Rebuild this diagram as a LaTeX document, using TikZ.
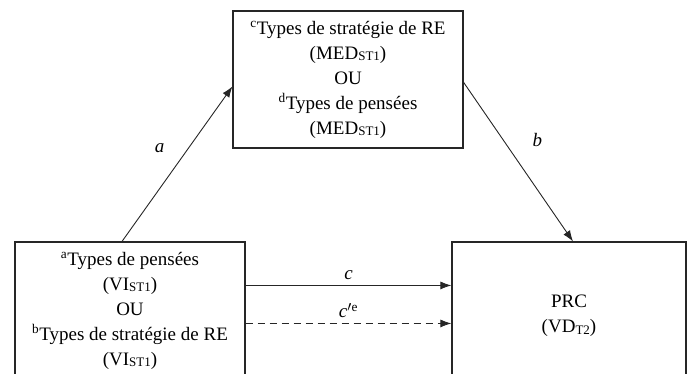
\documentclass[tikz,border=0pt]{standalone}
\usepackage{fontspec}
\setmainfont{Liberation Serif}
\usepackage{tikz}
\usetikzlibrary{arrows.meta,calc,positioning}
\newcommand{\tsub}[1]{\raisebox{-0.2ex}{\fontsize{13}{13}\selectfont #1}}

\begin{document}
\begin{tikzpicture}[x=1pt,y=1pt,
  box/.style={draw=black!85,line width=1.1pt,minimum width=230pt,minimum height=137pt,align=center,inner sep=0pt,font=\fontsize{19}{25}\selectfont},
  link/.style={draw=black!85,line width=0.9pt,-{Latex[length=11pt,width=8pt]}},
  lbl/.style={font=\fontsize{19}{20}\selectfont\itshape}]
\useasboundingbox (0,0) rectangle (688,-373);
\clip (0,0) rectangle (688,-373);
\node[box] (med) at (348,-79.5) {\textsuperscript{c}Types de stratégie de RE\\(MED\tsub{ST1})\\OU\\\textsuperscript{d}Types de pensées\\(MED\tsub{ST1})};
\node[box] (vi) at (130,-310.5) {\textsuperscript{a}Types de pensées\\(VI\tsub{ST1})\\OU\\\textsuperscript{b}Types de stratégie de RE\\(VI\tsub{ST1})};
\node[box,minimum width=234pt,minimum height=148pt] (prc) at (569,-316) {PRC\\(VD\tsub{T2})};
    \draw[link] ([xshift=-8pt]vi.north) -- node[lbl,pos=0.6,left=20pt]{a} ($(med.north west)!0.55!(med.south west)$);
    \draw[link] ($(med.north east)!0.52!(med.south east)$) -- node[lbl,pos=0.36,right=26pt]{b} ([xshift=4pt]prc.north);
    \draw[link] ([yshift=-44pt]vi.north east) -- node[lbl,above=2pt]{c} ([yshift=-44pt]prc.north west);
    \draw[link,dashed,dash pattern=on 7pt off 5pt] ([yshift=-82pt]vi.north east) -- node[above=2pt,font=\fontsize{19}{20}\selectfont]{\textit{c}$'$\textsuperscript{e}} ([yshift=-82pt]prc.north west);
\end{tikzpicture}
\end{document}
